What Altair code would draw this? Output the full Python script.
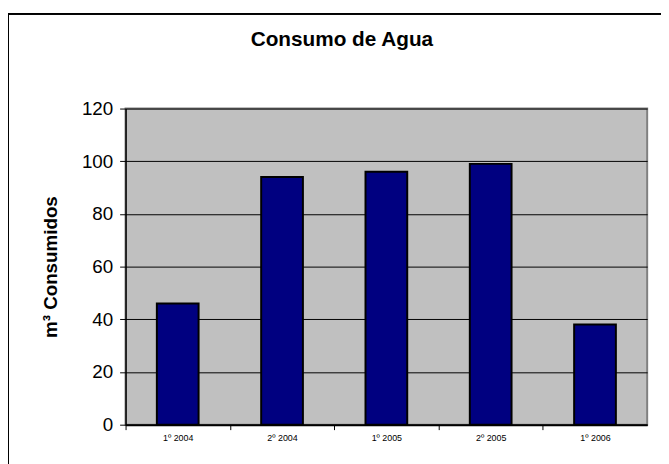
import altair as alt
import pandas as pd

categories = ["1º 2004", "2º 2004", "1º 2005", "2º 2005", "1º 2006"]
values = [46, 94, 96, 99, 38]
y_ticks = [0, 20, 40, 60, 80, 100, 120]

W, H = 528, 320
STEP = W / len(categories)
FONT = "Liberation Sans, Arial, sans-serif"

df = pd.DataFrame({"periodo": categories, "consumo": values})

bars = alt.Chart(df).mark_bar(
    color="#000080", stroke="#000000", strokeWidth=2,
    width=alt.RelativeBandSize(0.4)
).encode(
    x=alt.X("periodo:N", sort=categories, title=None,
            scale=alt.Scale(paddingInner=0, paddingOuter=0),
            axis=alt.Axis(labelAngle=0, labelFontSize=9, labelColor="#000",
                          labelFont=FONT, tickSize=5, tickColor="#000",
                          tickWidth=1, domainColor="#000", domainWidth=2,
                          labelPadding=4, tickOffset=-STEP / 2,
                          labelOffset=STEP / 2, grid=False)),
    y=alt.Y("consumo:Q", title="m³ Consumidos",
            scale=alt.Scale(domain=[0, 120], nice=False),
            axis=alt.Axis(values=y_ticks, labelFontSize=19, labelFont=FONT,
                          labelColor="#000", tickSize=6, tickColor="#000",
                          domainColor="#000", domainWidth=1.5,
                          labelPadding=7, grid=True, gridColor="#000",
                          gridWidth=1, gridOpacity=1,
                          titleFont=FONT, titleFontSize=19,
                          titleFontWeight="bold", titleColor="#000",
                          titleX=-70, titleY=H / 2, titleAngle=270,
                          titleAlign="center", titleBaseline="alphabetic")),
)

frame = alt.Chart(df).mark_rect(
    filled=False, stroke="#000000", strokeWidth=1.5
).encode(
    x=alt.value(-119), x2=alt.value(W + 60),
    y=alt.value(-96), y2=alt.value(H + 60),
)

chart = alt.layer(bars, frame).properties(
    width=W, height=H,
    title=alt.TitleParams("Consumo de Agua", font=FONT, fontSize=21,
                          fontWeight="bold", color="#000", anchor="middle",
                          baseline="alphabetic", offset=0,
                          dx=-45, dy=54),
    autosize=alt.AutoSizeParams(type="none"),
    padding={"left": 119, "top": 99, "right": 14, "bottom": 37},
    background="#ffffff",
).configure_view(
    fill="#C0C0C0", stroke="#808080", strokeWidth=2
)

chart.save("out.html", embed_options={"renderer": "svg", "actions": False})
